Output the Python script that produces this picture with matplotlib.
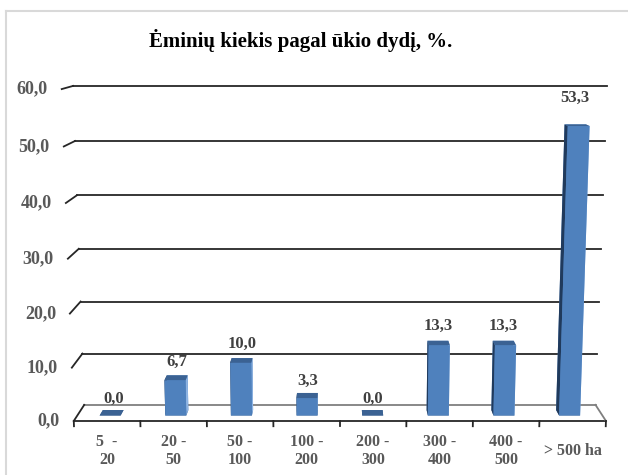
import numpy as np
import matplotlib
matplotlib.use("Agg")
import matplotlib.pyplot as plt
from matplotlib.lines import Line2D
from mpl_toolkits.mplot3d import proj3d

# ------------------------------------------------------------
# DATA
# ------------------------------------------------------------

categories = ["5  -\n20", "20 -\n50", "50 -\n100", "100 -\n200",
              "200 -\n300", "300 -\n400", "400 -\n500", "> 500 ha"]
values = [0.0, 6.7, 10.0, 3.3, 0.0, 13.3, 13.3, 53.3]
y_ticks = [0, 10, 20, 30, 40, 50, 60]
y_tick_labels = [f"{v:.1f}".replace(".", ",") for v in y_ticks]
value_labels = [f"{v:.1f}".replace(".", ",") for v in values]

title = "Ėminių kiekis pagal ūkio dydį, %."

# ------------------------------------------------------------
# STYLE
# ------------------------------------------------------------

plt.rcParams["font.family"] = ["Liberation Serif", "DejaVu Serif"]

W, H = 628, 475
fig = plt.figure(figsize=(W / 100, H / 100), dpi=100)

# chart border (light grey)
fig.add_artist(Line2D([6 / W, 6 / W], [0, 1 - 11 / H], color="#d9d9d9",
                      lw=1.5, transform=fig.transFigure))
fig.add_artist(Line2D([6 / W, 1], [1 - 11 / H, 1 - 11 / H], color="#d9d9d9",
                      lw=1.5, transform=fig.transFigure))

fig.text(301 / W, 1 - 40 / H, title, ha="center", va="center",
         fontsize=15, fontweight="bold", color="black")

# 3D axes (Excel-like perspective column chart)
S = 804
cx, cy = 329 / W, 1 - 264.5 / H
ax = fig.add_axes([cx - S / W / 2, cy - S / H / 2, S / W, S / H],
                  projection="3d", computed_zorder=False)
ax.set_proj_type("persp", focal_length=0.31)
ax.view_init(elev=10.2, azim=-90)
ax.set_box_aspect((1, 0.105, 0.62), zoom=0.76)
ax.set_axis_off()
ax.patch.set_alpha(0)

n = len(values)
x0, x1 = -0.5, n - 0.5
ax.set_xlim(x0, x1)
ax.set_ylim(0, 1)
ax.set_zlim(0, 60)

# walls: grid lines on back wall and side wall
for v in y_ticks:
    col = "#7f7f7f" if v == 0 else "#262626"
    ax.plot([x0, x1], [1, 1], [v, v], color=col, lw=1.3, zorder=1, clip_on=False)
    ax.plot([x0, x0], [0, 1], [v, v], color="#262626", lw=1.3, zorder=1, clip_on=False)

# floor edges + category ticks
ax.plot([x0, x1], [0, 0], [0, 0], color="#262626", lw=1.3, zorder=1, clip_on=False)
ax.plot([x1, x1], [0, 1], [0, 0], color="#7f7f7f", lw=1.3, zorder=1, clip_on=False)
for k in range(n + 1):
    ax.plot([x0 + k, x0 + k], [0, 0], [0, -1.0], color="#262626", lw=1.3,
            zorder=1, clip_on=False)

# bars (face order: bottom, top, front, back, left, right)
bw = 0.32
xs = np.arange(n) - bw / 2
face_cols = ["#3b6293", "#3b6293", "#4f81bd", "#4f81bd", "#203a5c", "#8db3e2"]
colors = [c for _ in range(n) for c in face_cols]
bars = ax.bar3d(xs, np.full(n, 0.33), np.zeros(n), bw, 0.34, values,
                color=colors, shade=False, zorder=2)
bars.set_clip_on(False)


def to2d(x, y, z):
    px, py, _ = proj3d.proj_transform(x, y, z, ax.get_proj())
    return px, py


# data labels
for i, v in enumerate(values):
    ax.annotate(value_labels[i], to2d(i, 0.67, v), xytext=(0, 11 + 0.3 * v),
                textcoords="offset pixels", ha="center", va="center",
                fontsize=12, fontweight="bold", color="#404040", zorder=3)

# value axis labels
for v, lab in zip(y_ticks, y_tick_labels):
    ax.annotate(lab, to2d(x0, 0, v), xytext=(-14, 0),
                textcoords="offset pixels", ha="right", va="center",
                fontsize=13, fontweight="bold", color="#595959", zorder=3)

# category labels
for i, lab in enumerate(categories):
    ax.annotate(lab, to2d(i, 0, 0), xytext=(0, -30),
                textcoords="offset pixels", ha="center", va="center",
                linespacing=1.2, fontsize=11.5, fontweight="bold",
                color="#595959", zorder=3)

fig.savefig("out.png", dpi=100)
